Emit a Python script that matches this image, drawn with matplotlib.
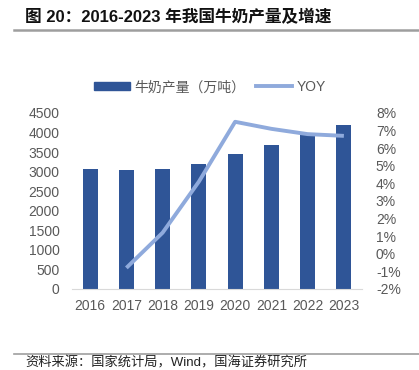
import matplotlib
matplotlib.use("Agg")
import matplotlib.pyplot as plt
from matplotlib.lines import Line2D

plt.rcParams['font.family'] = ['Liberation Sans', 'Noto Sans CJK SC', 'DejaVu Sans']

# --- data ---
years = ["2016", "2017", "2018", "2019", "2020", "2021", "2022", "2023"]
milk_output = [3064, 3039, 3075, 3201, 3440, 3683, 3932, 4197]   # 万吨
yoy = [None, -0.8, 1.2, 4.1, 7.5, 7.1, 6.8, 6.7]                    # %

bar_color = "#2F5597"
line_color = "#8FAADC"
tick_color = "#595959"

fig = plt.figure(figsize=(4.19, 3.70), dpi=100)

# title + rules
fig.text(25 / 419, 1 - 17 / 370, "图 20：2016-2023 年我国牛奶产量及增速",
         fontsize=12, fontweight="bold", va="center", ha="left",
         family=["Liberation Sans", "Noto Sans CJK SC"], color="#111111")
fig.add_artist(Line2D([14 / 419, 1], [1 - 30 / 370] * 2, color="#9E9E9E", lw=1.8))
fig.add_artist(Line2D([14 / 419, 1], [1 - 354 / 370] * 2, color="#9E9E9E", lw=1.2))
fig.text(25 / 419, 1 / 370, "资料来源：国家统计局，Wind，国海证券研究所",
         fontsize=9.5, va="bottom", ha="left", color="#222222",
         family=["Liberation Sans", "Noto Sans CJK SC"])

ax = fig.add_axes([72 / 419, 1 - 289 / 370, 290 / 419, 176 / 370])
x = range(len(years))
ax.bar(x, milk_output, width=0.41, color=bar_color, zorder=2)
ax.set_ylim(0, 4500)
ax.set_yticks(range(0, 4501, 500))
ax.set_xlim(-0.5, 7.5)
ax.set_xticks(list(x))
ax.set_xticklabels(years)
for s in ["top", "left", "right"]:
    ax.spines[s].set_visible(False)
ax.spines["bottom"].set_color("#D9D9D9")
ax.tick_params(axis="both", length=0, colors=tick_color, labelsize=10)
ax.tick_params(axis="y", pad=9)
ax.tick_params(axis="x", pad=7)

ax2 = ax.twinx()
xs = [i for i, v in enumerate(yoy) if v is not None]
ys = [v for v in yoy if v is not None]
ax2.plot(xs, ys, color=line_color, lw=2.8, zorder=3, solid_capstyle="butt")
ax2.set_ylim(-2, 8)
ax2.set_yticks(range(-2, 9))
ax2.set_yticklabels([f"{v}%" for v in range(-2, 9)])
for s in ["top", "left", "right", "bottom"]:
    ax2.spines[s].set_visible(False)
ax2.tick_params(axis="y", length=0, colors=tick_color, labelsize=10, pad=10)

# legend
handles = [plt.Rectangle((0, 0), 1, 1, color=bar_color),
           Line2D([0], [0], color=line_color, lw=2.8)]
leg = fig.legend(handles, ["牛奶产量（万吨）", "YOY"], ncol=2, frameon=False,
                 loc="center", bbox_to_anchor=(0.5, 1 - 87 / 370),
                 handlelength=2.6, handleheight=0.55, columnspacing=0.8,
                 handletextpad=0.3, prop={"size": 10,
                                          "family": ["Liberation Sans", "Noto Sans CJK SC"]})
for t in leg.get_texts():
    t.set_color(tick_color)

fig.savefig("out.png", dpi=100)
